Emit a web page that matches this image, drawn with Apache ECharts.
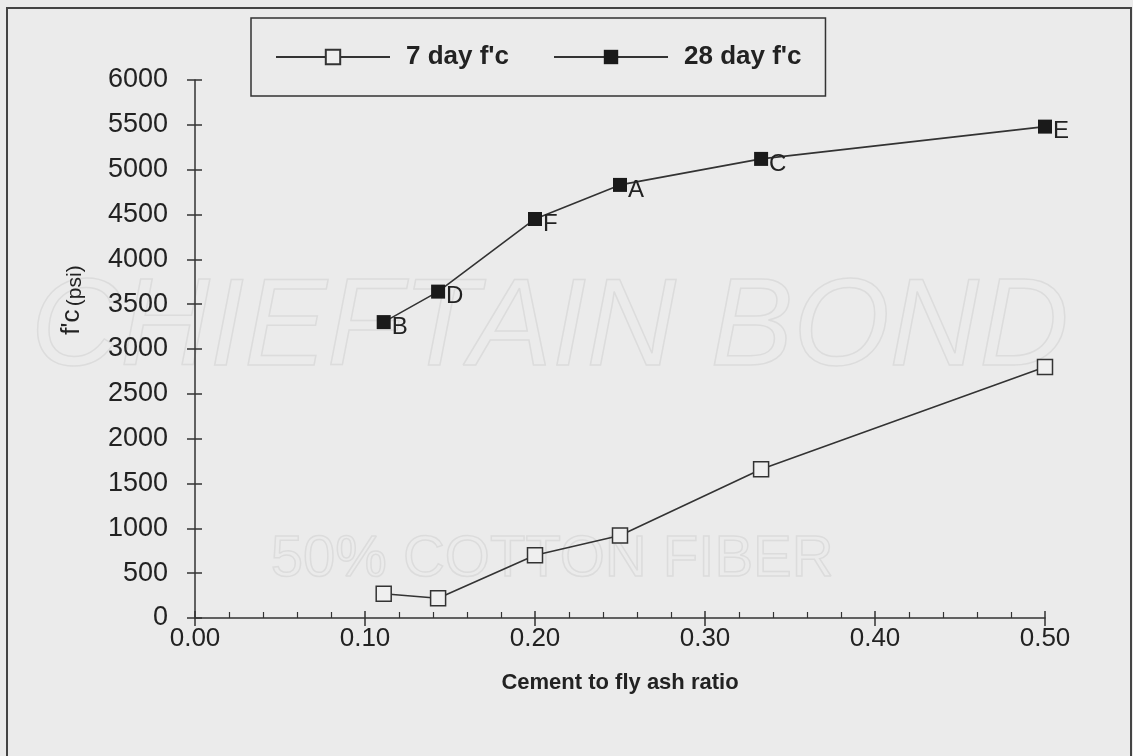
<!DOCTYPE html>
<html>
<head>
<meta charset="utf-8">
<script src="https://cdn.jsdelivr.net/npm/echarts@6/dist/echarts.min.js"></script>
<style>
html, body { margin: 0; padding: 0; background: #ebebeb; }
#chart { width: 1133px; height: 756px; }
</style>
</head>
<body>
<div id="chart"></div>
<script>
// cement to fly ash ratio of each mix
var ratio = [0.111, 0.143, 0.20, 0.25, 0.333, 0.50];
var mixIds = ['B', 'D', 'F', 'A', 'C', 'E'];
// compressive strength, psi
var day7 = [270, 220, 700, 920, 1660, 2800];
var day28 = [3300, 3640, 4450, 4830, 5120, 5480];
var yTicks = [0, 6000, 500];
var xTicks = [0, 0.5, 0.1];

var chart = echarts.init(document.getElementById('chart'));
var ink = '#222';
var font = 'Liberation Sans, Arial, sans-serif';

function pairs(ys) {
    return ratio.map(function (x, i) { return [x, ys[i]]; });
}

var option = {
    backgroundColor: '#ebebeb',
    animation: false,
    grid: { left: 195, right: 88, top: 80, bottom: 138 },
    legend: {
        left: 251, top: 18,
        padding: [26, 24],
        itemWidth: 114, itemHeight: 18, itemGap: 44,
        borderColor: '#333', borderWidth: 1.5,
        textStyle: { fontFamily: font, fontSize: 26, fontWeight: 'bold', color: ink, padding: [0, 0, 0, 11] },
        data: ['7 day f\'c', '28 day f\'c']
    },
    graphic: [
        // frame of the page
        { type: 'rect', shape: { x: 7, y: 8, width: 1124, height: 800 },
          style: { fill: 'none', stroke: '#444', lineWidth: 2 } },
        // paper watermark
        { type: 'text', left: 30, top: 268, silent: true, z: -1,
          style: { text: 'CHIEFTAIN BOND', font: 'italic 124px Liberation Sans', fill: 'none', stroke: '#dcdcdc', lineWidth: 1.5 } },
        { type: 'text', left: 270, top: 530, silent: true, z: -1,
          style: { text: '50% COTTON FIBER', font: '58px Liberation Sans', fill: 'none', stroke: '#dcdcdc', lineWidth: 1.5 } },
        // y axis title
        { type: 'text', x: 72, y: 300, rotation: Math.PI / 2,
          style: {
              text: '{a|f\'c} {b|(psi)}',
              align: 'center', verticalAlign: 'middle',
              rich: {
                  a: { fontFamily: font, fontSize: 26, fill: ink },
                  b: { fontFamily: font, fontSize: 21, fill: ink, padding: [6, 0, 0, 0] }
              }
          } }
    ],
    xAxis: [{
        type: 'value', position: 'bottom',
        min: xTicks[0], max: xTicks[1], interval: xTicks[2],
        name: 'Cement to fly ash ratio', nameLocation: 'middle', nameGap: 54,
        nameTextStyle: { fontFamily: font, fontSize: 22, fontWeight: 'bold', color: ink },
        axisLine: { lineStyle: { color: '#333', width: 1.5 } },
        axisTick: { length: 8, lineStyle: { color: '#333', width: 1.5 } },
        axisLabel: { fontFamily: font, fontSize: 26, color: ink, margin: 8,
            formatter: function (v) { return v.toFixed(2); } },
        splitLine: { show: false }
    }, {
        type: 'value', position: 'bottom',
        min: xTicks[0], max: xTicks[1], interval: xTicks[2],
        axisLine: { show: false },
        axisTick: { inside: true, length: 7, lineStyle: { color: '#333', width: 1.5 } },
        minorTick: { show: true, splitNumber: 5, length: 6, lineStyle: { color: '#333', width: 1.2 } },
        axisLabel: { show: false },
        splitLine: { show: false }
    }],
    yAxis: [{
        type: 'value', position: 'left',
        min: yTicks[0], max: yTicks[1], interval: yTicks[2],
        axisLine: { show: true, lineStyle: { color: '#333', width: 1.5 } },
        axisTick: { show: true, length: 8, lineStyle: { color: '#333', width: 1.5 } },
        axisLabel: { fontFamily: font, fontSize: 27, color: ink, margin: 27,
            formatter: function (v) { return String(v); } },
        splitLine: { show: false }
    }, {
        type: 'value', position: 'left',
        min: yTicks[0], max: yTicks[1], interval: yTicks[2],
        axisLine: { show: false },
        axisTick: { show: true, inside: true, length: 7, lineStyle: { color: '#333', width: 1.5 } },
        axisLabel: { show: false },
        splitLine: { show: false }
    }],
    series: [{
        name: '7 day f\'c',
        type: 'line',
        data: pairs(day7),
        symbol: 'rect', symbolSize: 15,
        lineStyle: { color: '#333', width: 1.6 },
        itemStyle: { color: '#efefef', borderColor: '#333', borderWidth: 1.5 }
    }, {
        name: '28 day f\'c',
        type: 'line',
        data: pairs(day28),
        symbol: 'rect', symbolSize: 14,
        lineStyle: { color: '#333', width: 1.6 },
        itemStyle: { color: '#1a1a1a' },
        label: {
            show: true, position: 'right', distance: 1, offset: [0, 5],
            fontFamily: font, fontSize: 24, color: ink,
            formatter: function (p) { return mixIds[p.dataIndex]; }
        }
    }]
};
chart.setOption(option);
</script>
</body>
</html>
